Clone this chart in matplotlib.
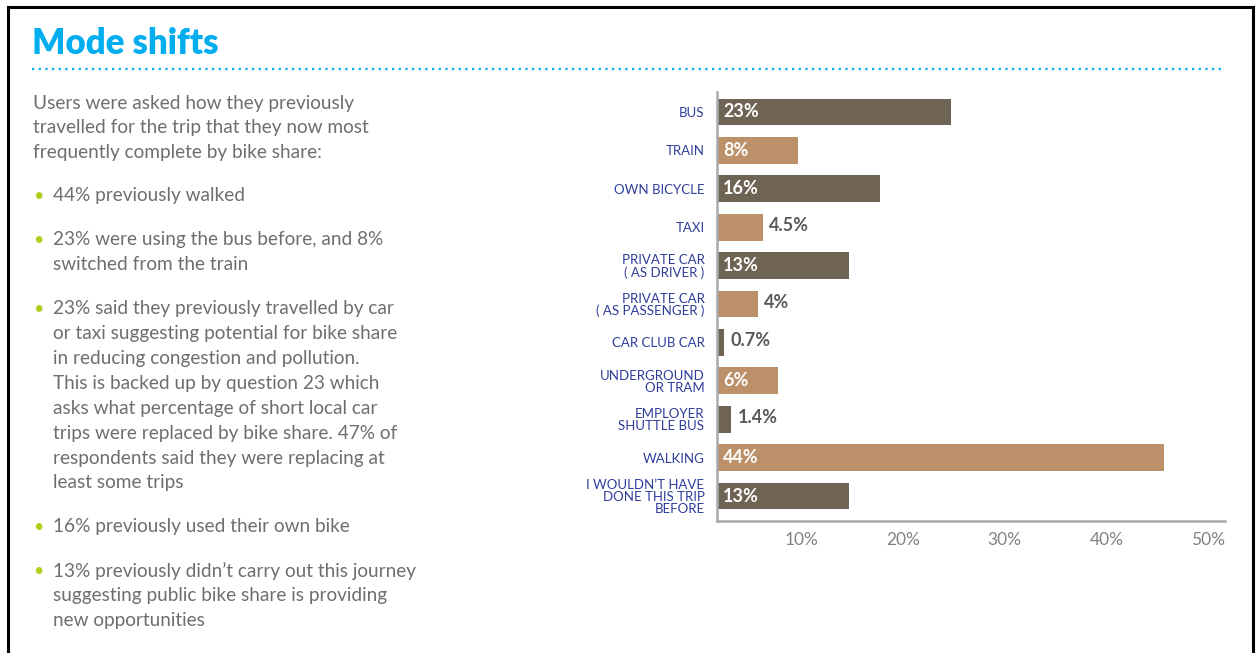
import matplotlib
matplotlib.use('Agg')
import matplotlib.pyplot as plt
from matplotlib.lines import Line2D

# chart data
categories = ['BUS', 'TRAIN', 'OWN BICYCLE', 'TAXI', 'PRIVATE CAR\n( AS DRIVER )',
              'PRIVATE CAR\n( AS PASSENGER )', 'CAR CLUB CAR', 'UNDERGROUND\nOR TRAM',
              'EMPLOYER\nSHUTTLE BUS', 'WALKING', 'I WOULDN\u2019T HAVE\nDONE THIS TRIP\nBEFORE']
shares = [23, 8, 16, 4.5, 13, 4, 0.7, 6, 1.4, 44, 13]
share_labels = ['23%', '8%', '16%', '4.5%', '13%', '4%', '0.7%', '6%', '1.4%', '44%', '13%']
ticks = [10, 20, 30, 40, 50]
tick_labels = ['10%', '20%', '30%', '40%', '50%']

intro = ['Users were asked how they previously',
         'travelled for the trip that they now most',
         'frequently complete by bike share:']
bullets = [
    ['44% previously walked'],
    ['23% were using the bus before, and 8%', 'switched from the train'],
    ['23% said they previously travelled by car',
     'or taxi suggesting potential for bike share',
     'in reducing congestion and pollution.',
     'This is backed up by question 23 which',
     'asks what percentage of short local car',
     'trips were replaced by bike share. 47% of',
     'respondents said they were replacing at',
     'least some trips'],
    ['16% previously used their own bike'],
    ['13% previously didn\u2019t carry out this journey',
     'suggesting public bike share is providing',
     'new opportunities'],
]

W, H = 1257, 653
dark = '#6f6353'
light = '#bc916a'
navy = '#2e3d9a'
grey_txt = '#6d6e71'
cyan = '#00aeef'

plt.rcParams['font.family'] = ['Lato', 'DejaVu Sans']

fig = plt.figure(figsize=(W / 100, H / 100), dpi=100)
fig.patch.set_facecolor('white')


def fx(px):
    return px / W


def fy(py):
    return 1 - py / H


# black screenshot frame
fig.add_artist(Line2D([fx(8), fx(8)], [fy(7), 0], color='black', lw=2.2))
fig.add_artist(Line2D([fx(8), fx(1253)], [fy(7), fy(7)], color='black', lw=2.2))
fig.add_artist(Line2D([fx(1253), fx(1253)], [fy(7), 0], color='black', lw=2.2))

# title and dotted rule
fig.text(fx(32), fy(43), 'Mode shifts', color=cyan, fontsize=25, fontweight='heavy',
         va='center', ha='left')
fig.add_artist(Line2D([fx(32), fx(1222)], [fy(69), fy(69)], color=cyan, lw=1.6,
                      linestyle=(0, (1, 2))))

# left text
y = 103
for line in intro:
    fig.text(fx(33), fy(y), line, color=grey_txt, fontsize=13.7, va='center', ha='left')
    y += 25
y = 196
for item in bullets:
    fig.text(fx(38), fy(y), '\u2022', color='#b6cc1c', fontsize=13, va='center', ha='center')
    for line in item:
        fig.text(fx(53), fy(y), line, color=grey_txt, fontsize=13.7, va='center', ha='left')
        y += 24.9
    y += 19

# bar chart
ax = fig.add_axes([fx(717), fy(521), fx(1225) - fx(717), fy(92) - fy(521)])
pos = list(range(len(categories)))
colors = [dark if i % 2 == 0 else light for i in pos]
ax.barh(pos, shares, height=0.7, color=colors, align='center')
ax.set_xlim(0, 50)
ax.set_ylim(10.65, -0.52)

for i, (v, lab) in enumerate(zip(shares, share_labels)):
    if v >= 6:
        ax.text(0.6, i, lab, color='white', fontsize=13, fontweight='bold',
                va='center', ha='left')
    else:
        ax.text(v + 0.6, i - 0.05, lab, color='#58595b', fontsize=13, fontweight='bold',
                va='center', ha='left')

ax.set_yticks(pos)
ax.set_yticklabels(categories, color=navy, fontsize=9.5, linespacing=1.0)
ax.set_xticks(ticks)
ax.set_xticklabels(tick_labels, color='#808285', fontsize=12.5, ha='right')
ax.tick_params(axis='both', length=0)
ax.tick_params(axis='y', pad=9)
ax.tick_params(axis='x', pad=8)
for s in ['top', 'right']:
    ax.spines[s].set_visible(False)
for s in ['left', 'bottom']:
    ax.spines[s].set_color('#a7a9ac')
    ax.spines[s].set_linewidth(1.8)

fig.savefig('out.png', dpi=100, facecolor='white')
